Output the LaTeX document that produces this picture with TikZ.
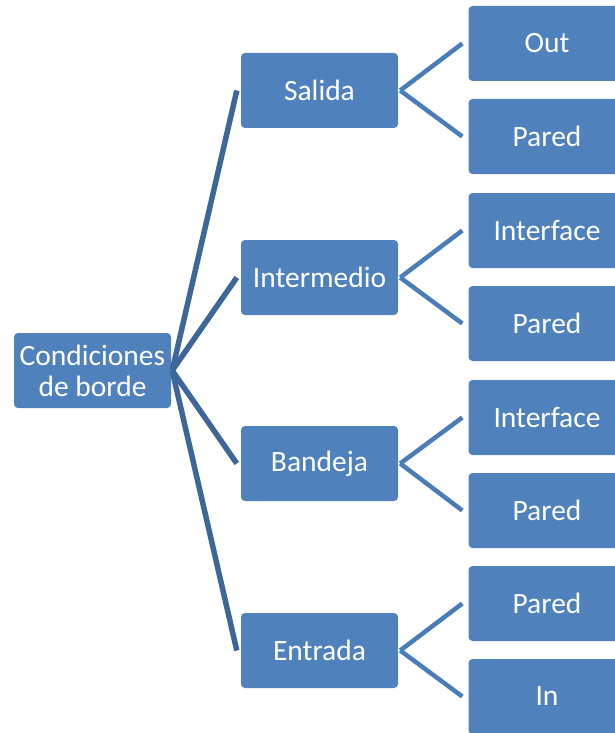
\documentclass[tikz,border=0pt]{standalone}
\usepackage{fontspec}
\setmainfont{Carlito}
\usepackage{xcolor}
\usetikzlibrary{positioning}
\definecolor{boxblue}{HTML}{4F81BD}
\definecolor{linedark}{HTML}{3D6699}
\definecolor{linelight}{HTML}{4A7CB8}

\begin{document}
\begin{tikzpicture}[x=1pt, y=1pt,
  box/.style={fill=boxblue, rounded corners=4pt, minimum width=157pt, minimum height=75pt,
    inner sep=2pt, align=center, text=white, font=\fontsize{29.5}{31}\selectfont},
  root/.style={box, minimum width=157pt},
  trunk/.style={draw=linedark, line width=5.5pt},
  twig/.style={draw=linelight, line width=4.5pt}
]
\useasboundingbox (0,0) rectangle (615,-733);
\clip (0,0) rectangle (615,-733);

% root
\node[root] (Cond) at (92.5,-370.5) {Condiciones\\de borde};

% second level
\node[box] (Sal) at (319.5,-90.5) {Salida};
\node[box] (Int) at (319.5,-277.5) {Intermedio};
\node[box] (Ban) at (319.5,-463.5) {Bandeja};
\node[box] (Ent) at (319.5,-650.5) {Entrada};

% third level
\node[box] (Out) at (547,-43.5) {Out};
\node[box] (ParA) at (547,-136.5) {Pared};
\node[box] (IntfA) at (547,-230.5) {Interface};
\node[box] (ParB) at (547,-323.5) {Pared};
\node[box] (IntfB) at (547,-417.5) {Interface};
\node[box] (ParC) at (547,-510.5) {Pared};
\node[box] (ParD) at (547,-603.5) {Pared};
\node[box] (In) at (547,-696.5) {In};

% connectors
\foreach \n in {Sal, Int, Ban, Ent}
  \draw[trunk] ([xshift=1pt]Cond.east) -- ([xshift=-4pt]\n.west);
\foreach \a/\b in {Sal/Out, Sal/ParA, Int/IntfA, Int/ParB, Ban/IntfB, Ban/ParC, Ent/ParD, Ent/In}
  \draw[twig] ([xshift=2pt]\a.east) -- ([xshift=-6pt]\b.west);
\end{tikzpicture}
\end{document}
